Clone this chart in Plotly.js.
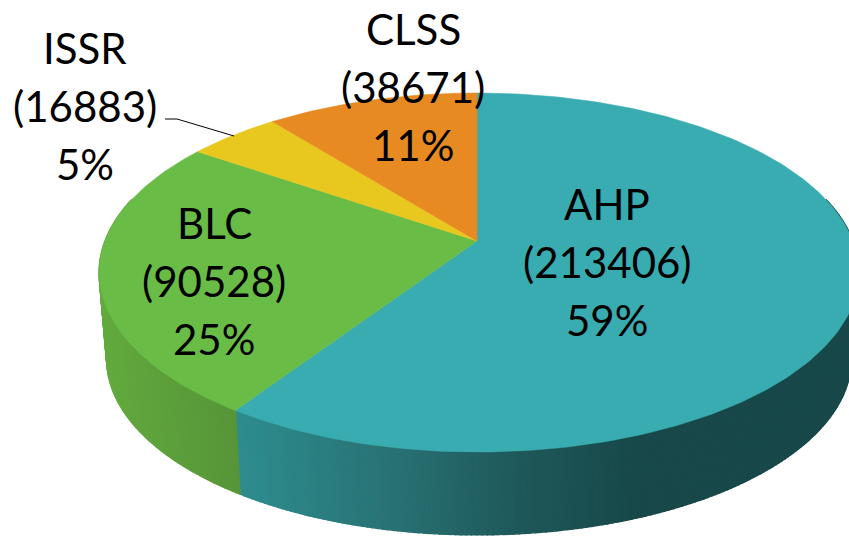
<!DOCTYPE html>
<html>
<head>
<meta charset="utf-8">
<script src="https://cdn.plot.ly/plotly-3.0.1.min.js"></script>
<style>html,body{margin:0;padding:0;background:#fff}#chart{width:849px;height:537px}</style>
</head>
<body>
<div id="chart"></div>
<script>
// Data, clockwise from 12 o'clock
const categories = ['AHP', 'BLC', 'ISSR', 'CLSS'];
const seriesValues = [213406, 90528, 16883, 38671];
const topColors = ['#38ACB0', '#69BC46', '#E8C71F', '#E78A21'];
const labelX = [607, 214, 85, 413];
const labelY = [204, 223, 48, 29];

// Perspective projection of the disc
const apex = {x: 477, y: 241}, radXLeft = 372, radXRight = 376, radY = 174, k = 0.1755, depth = 87, baseScale = 0.98;
function topPt(t) {
  const u = Math.sin(t), v = -Math.cos(t), d = 1 - k * v;
  return [apex.x + (u > 0 ? radXRight : radXLeft) * u / d, apex.y + radY * v / d];
}
function basePt(t) {
  const p = topPt(t);
  return [apex.x + (p[0] - apex.x) * baseScale, apex.y + depth + (p[1] - apex.y) * baseScale];
}
function mix(stops, x) {
  if (x <= stops[0][0]) return 'rgb(' + stops[0][1].join(',') + ')';
  for (let i = 1; i < stops.length; i++) {
    if (x <= stops[i][0]) {
      const f = (x - stops[i-1][0]) / (stops[i][0] - stops[i-1][0]);
      const c = stops[i-1][1].map((s, j) => Math.round(s + (stops[i][1][j] - s) * f));
      return 'rgb(' + c.join(',') + ')';
    }
  }
  return 'rgb(' + stops[stops.length-1][1].join(',') + ')';
}
const wallStops = [
  [[240,[46,140,142]], [400,[40,112,114]], [520,[30,88,90]], [640,[24,72,73]]],
  [[100,[98,170,62]], [240,[87,148,56]]]
];

const total = seriesValues.reduce((s, v) => s + v, 0);
const traces = [];
let cum = 0;
const spans = seriesValues.map(v => { const s = [cum, cum + v / total]; cum = s[1]; return s; });

// Side wall: only the near half of the disc is visible
spans.forEach((s, i) => {
  if (i > 1) return;
  const t0 = s[0] * 2 * Math.PI, t1 = s[1] * 2 * Math.PI;
  const from = Math.max(t0, Math.PI * 0.42), to = Math.min(t1, Math.PI * 1.58);
  const n = Math.ceil((to - from) / 0.012);
  for (let j = 0; j < n; j++) {
    const a0 = from + (to - from) * j / n, a1 = from + (to - from) * (j + 1) / n;
    const p0 = topPt(a0), p1 = topPt(a1), q0 = basePt(a0), q1 = basePt(a1);
    const col = mix(wallStops[i], (p0[0] + p1[0]) / 2);
    traces.push({type: 'scatter', mode: 'lines', hoverinfo: 'skip', showlegend: false,
      x: [p0[0], p1[0], q1[0], q0[0], p0[0]], y: [p0[1], p1[1], q1[1], q0[1], p0[1]],
      fill: 'toself', fillcolor: col, line: {color: col, width: 1.5}});
  }
});

// Top face
spans.forEach((s, i) => {
  const xs = [apex.x], ys = [apex.y], n = Math.ceil((s[1] - s[0]) * 360);
  for (let j = 0; j <= n; j++) {
    const p = topPt((s[0] + (s[1] - s[0]) * j / n) * 2 * Math.PI);
    xs.push(p[0]); ys.push(p[1]);
  }
  xs.push(apex.x); ys.push(apex.y);
  traces.push({type: 'scatter', mode: 'lines', name: categories[i], hoverinfo: 'skip', showlegend: false,
    x: xs, y: ys, fill: 'toself', fillcolor: topColors[i], line: {color: topColors[i], width: 0.5}});
});

// ISSR leader line
traces.push({type: 'scatter', mode: 'lines', hoverinfo: 'skip', showlegend: false,
  x: [165, 177, 234], y: [119, 119, 136], line: {color: '#000', width: 1}});

const annotations = [];
const lineGap = 58;
categories.forEach((c, i) => {
  const lines = [c, '(' + seriesValues[i] + ')', Math.round(seriesValues[i] / total * 100) + '%'];
  lines.forEach((t, j) => annotations.push({
    x: labelX[i], y: labelY[i] + j * lineGap, xref: 'x', yref: 'y', text: t, showarrow: false,
    xanchor: 'center', yanchor: 'middle', font: {family: 'Lato, "Open Sans", sans-serif', size: 42, color: '#000'}
  }));
});

Plotly.newPlot('chart', traces, {
  width: 849, height: 537, margin: {l: 0, r: 0, t: 0, b: 0},
  paper_bgcolor: '#fff', plot_bgcolor: '#fff', showlegend: false,
  xaxis: {range: [0, 849], visible: false, fixedrange: true},
  yaxis: {range: [537, 0], visible: false, fixedrange: true},
  annotations
}, {displayModeBar: false, staticPlot: true});
</script>
</body>
</html>
